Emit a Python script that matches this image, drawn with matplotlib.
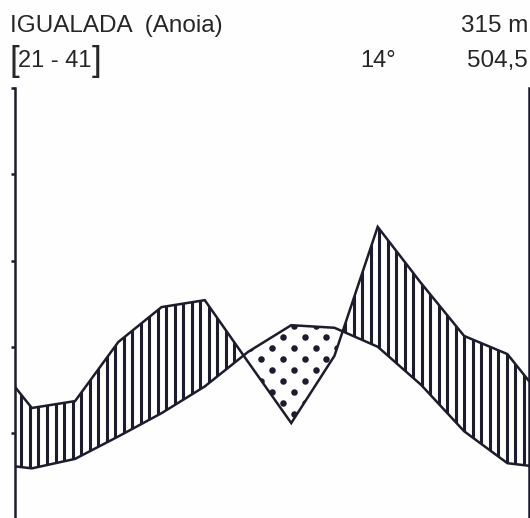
import numpy as np
import matplotlib
matplotlib.use('Agg')
import matplotlib.pyplot as plt
from matplotlib.path import Path

# ---- data ----
months = ['Gen', 'Feb', 'Mar', 'Abr', 'Mai', 'Jun', 'Jul', 'Ago', 'Set', 'Oct', 'Nov', 'Des']
temperature = [5.9, 7.0, 9.6, 12.3, 15.4, 19.4, 22.5, 22.2, 20.0, 15.6, 10.2, 6.5]      # °C
precipitation = [25.8, 27.4, 41.1, 49.2, 50.8, 36.5, 22.3, 37.9, 67.8, 54.8, 42.5, 38.3]  # mm
yticks = [10, 20, 30, 40, 50]
station = "IGUALADA  (Anoia)"
altitude = "315 m"
years = "21 - 41"
mean_temp = "14°"
annual_precip = "504,5"

W, H = 530, 518
INK = '#1c1c2c'
TXT = '#262626'
FONT = 'Liberation Sans'

fig = plt.figure(figsize=(W / 100, H / 100), dpi=100)
fig.patch.set_facecolor('#fefefe')
ax = fig.add_axes([15 / W, -1.25 / H, 514 / W, 431.25 / H])
ax.set_facecolor('none')

xl, xr = -0.39, 11.5
ax.set_xlim(xl, xr)
ax.set_ylim(0, 50)


def extend(v):
    v = np.asarray(v, float)
    left = v[-1] + (v[0] - v[-1]) * (1 + xl)
    right = v[-1] + (v[0] - v[-1]) * (xr - 11)
    return np.concatenate([[left], v, [right]])


xm = np.arange(len(months))
xe = np.concatenate([[xl], xm, [xr]])
Te = extend(temperature)
Pe = extend(precipitation) / 2.0  # 10 °C = 20 mm

xd = np.linspace(xl, xr, 4000)
Td = np.interp(xd, xe, Te)
Pd = np.interp(xd, xe, Pe)

humid = ax.fill_between(xd, Td, Pd, where=Pd >= Td, interpolate=True,
                        facecolor='none', edgecolor='none', lw=0)
arid = ax.fill_between(xd, Td, Pd, where=Td >= Pd, interpolate=True,
                       facecolor='none', edgecolor='none', lw=0)

hpath = Path.make_compound_path(*humid.get_paths())
apath = Path.make_compound_path(*arid.get_paths())

# vertical hatching (humid period)
step = 0.197
hx = 1.729 + step * np.arange(-20, 70)
hx = hx[(hx > xl) & (hx < xr)]
hl = ax.vlines(hx, 0, 50, colors=INK, lw=2.2, zorder=2)
hl.set_clip_path(hpath, ax.transData)

# dots (arid period)
dx, dy = 0.502, 1.275
px, py = [], []
for k in range(-20, 20):
    for m in range(-25, 25):
        px.append(5.81 + (k % 2) * dx / 2 + m * dx)
        py.append(21.13 + k * dy)
sc = ax.scatter(px, py, s=22, color=INK, lw=0, zorder=2)
sc.set_clip_path(apath, ax.transData)

# curves
ax.plot(xe, Te, color=INK, lw=1.8, zorder=3, solid_joinstyle='miter')
ax.plot(xe, Pe, color=INK, lw=1.8, zorder=3, solid_joinstyle='miter')

# axes styling
for s in ['top', 'bottom']:
    ax.spines[s].set_visible(False)
for s in ['left', 'right']:
    ax.spines[s].set_linewidth(1.8)
    ax.spines[s].set_color(INK)
ax.set_xticks([])
ax.set_yticks(yticks)
ax.set_yticklabels([])
ax.tick_params(axis='y', direction='out', length=3, width=1.8, color=INK,
               left=True, right=False)

# texts
def ftext(x, y, s, size=17, ha='left'):
    fig.text(x / W, 1 - y / H, s, fontsize=size, family=FONT, color=TXT,
             ha=ha, va='baseline')

ftext(10, 32, station, size=17.5)
ftext(528, 32, altitude, size=17.5, ha='right')
ftext(9, 71, '[', size=25)
ftext(55, 67, years, ha='center')
ftext(101, 71, ']', size=25, ha='right')
ftext(378, 67, mean_temp, ha='center')
ftext(528, 67, annual_precip, size=17.5, ha='right')

fig.savefig('out.png', dpi=100, facecolor=fig.get_facecolor())
